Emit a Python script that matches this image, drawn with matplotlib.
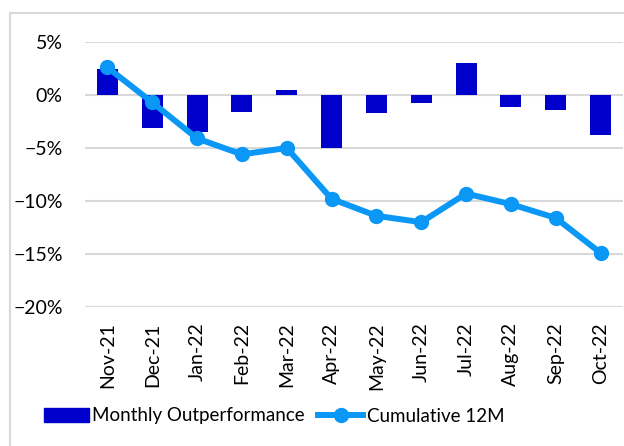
import matplotlib
matplotlib.use('Agg')
import matplotlib.pyplot as plt
from matplotlib.ticker import PercentFormatter
from matplotlib.lines import Line2D

months = ['Nov-21', 'Dec-21', 'Jan-22', 'Feb-22', 'Mar-22', 'Apr-22',
          'May-22', 'Jun-22', 'Jul-22', 'Aug-22', 'Sep-22', 'Oct-22']
monthly = [2.5, -3.1, -3.5, -1.6, 0.5, -5.0, -1.7, -0.8, 3.0, -1.1, -1.4, -3.8]
cumulative = [2.6, -0.7, -4.1, -5.6, -5.0, -9.8, -11.4, -12.0, -9.3, -10.3, -11.6, -14.9]

bar_color = '#0000CC'
line_color = '#0A97F5'
font = ['Lato', 'DejaVu Sans']
plt.rcParams['font.family'] = font

fig = plt.figure(figsize=(6.24, 4.46), dpi=100)
ax = fig.add_axes([85 / 624, 139 / 446, 538 / 624, 265 / 446])

x = range(len(months))
ax.bar(x, monthly, width=0.47, color=bar_color, zorder=2)
ax.plot(x, cumulative, color=line_color, lw=4.3, marker='o', ms=10, zorder=3)

ax.set_xlim(-0.5, len(months) - 0.5)
ax.set_ylim(-20, 5)
ax.set_yticks([-20, -15, -10, -5, 0, 5])
ax.yaxis.set_major_formatter(PercentFormatter(decimals=0))
ax.set_xticks(list(x))
ax.set_xticklabels(months, rotation=90)
ax.tick_params(axis='both', length=0, labelsize=14, colors='black')
ax.tick_params(axis='y', pad=16)
ax.tick_params(axis='x', pad=11)
ax.grid(axis='y', color='#D9D9D9', lw=1.5, zorder=0)
for s in ax.spines.values():
    s.set_visible(False)

# chart border (left and top)
fig.add_artist(Line2D([10 / 624, 10 / 624], [0, 1 - 13 / 446], color='#D9D9D9', lw=1.5))
fig.add_artist(Line2D([10 / 624, 1], [1 - 13 / 446, 1 - 13 / 446], color='#D9D9D9', lw=1.5))

handles = [plt.Rectangle((0, 0), 1, 1, color=bar_color),
           Line2D([], [], color=line_color, lw=4.3, marker='o', ms=10)]
fig.legend(handles, ['Monthly Outperformance', 'Cumulative 12M'], loc='center',
           bbox_to_anchor=(274 / 624, 1 - 416 / 446), ncol=2, frameon=False,
           fontsize=13.5, handlelength=2.4, handletextpad=0.2, columnspacing=0.7)

fig.savefig('out.png', dpi=100)
